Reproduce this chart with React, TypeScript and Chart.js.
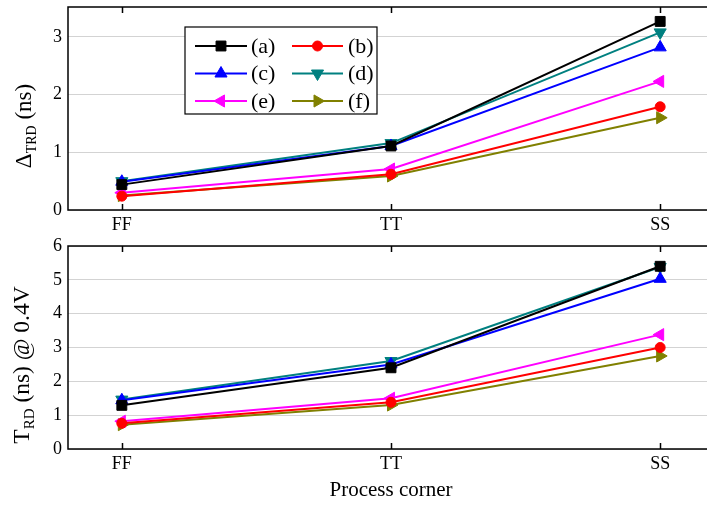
import React, { useEffect, useRef } from "react";
import { Chart, registerables } from "chart.js";
Chart.register(...registerables);

const FONT = '"Liberation Serif", "Times New Roman", serif';

const categories = ["FF", "TT", "SS"];
const seriesLabels = ["(a)", "(b)", "(c)", "(d)", "(e)", "(f)"];
const seriesColors = ["#000000", "#ff0000", "#0000ff", "#008080", "#ff00ff", "#808000"];
const pointStyles = ["rect", "circle", "triangle", "triangle", "triangle", "triangle"];
const pointRotations = [0, 0, 0, 180, 270, 90];
const pointRadii = [7, 5, 7, 7, 7, 7];

// Top panel: Δ_TRD (ns)
const deltaA = [0.44, 1.11, 3.27];
const deltaB = [0.24, 0.62, 1.79];
const deltaC = [0.49, 1.11, 2.82];
const deltaD = [0.5, 1.16, 3.08];
const deltaE = [0.3, 0.71, 2.23];
const deltaF = [0.25, 0.59, 1.6];

// Bottom panel: T_RD (ns) @ 0.4V
const trdA = [1.29, 2.4, 5.4];
const trdB = [0.76, 1.38, 3.0];
const trdC = [1.44, 2.5, 5.03];
const trdD = [1.46, 2.6, 5.38];
const trdE = [0.82, 1.5, 3.38];
const trdF = [0.72, 1.3, 2.75];

const topYTicks = [0, 1, 2, 3];
const bottomYTicks = [0, 1, 2, 3, 4, 5, 6];

function drawMarker(ctx: CanvasRenderingContext2D, style: string, rotation: number, x: number, y: number, r: number, color: string) {
  ctx.save();
  ctx.fillStyle = color;
  ctx.strokeStyle = color;
  ctx.lineWidth = 1;
  ctx.translate(x, y);
  ctx.rotate((rotation * Math.PI) / 180);
  ctx.beginPath();
  if (style === "rect") {
    const s = r * Math.SQRT1_2;
    ctx.rect(-s, -s, 2 * s, 2 * s);
  } else if (style === "circle") {
    ctx.arc(0, 0, r, 0, Math.PI * 2);
  } else {
    for (let i = 0; i < 3; i++) {
      const ang = (i * 2 * Math.PI) / 3;
      const px = Math.sin(ang) * r;
      const py = -Math.cos(ang) * r;
      if (i === 0) ctx.moveTo(px, py);
      else ctx.lineTo(px, py);
    }
    ctx.closePath();
  }
  ctx.fill();
  ctx.stroke();
  ctx.restore();
}

type Seg = { text: string; size: number; sub?: boolean };

function drawRotatedTitle(ctx: CanvasRenderingContext2D, segs: Seg[], baseX: number, centerY: number) {
  ctx.save();
  let total = 0;
  const widths = segs.map((s) => {
    ctx.font = `${s.size}px ${FONT}`;
    const w = ctx.measureText(s.text).width;
    total += w;
    return w;
  });
  ctx.translate(baseX, centerY);
  ctx.rotate(-Math.PI / 2);
  ctx.fillStyle = "#000";
  ctx.textBaseline = "alphabetic";
  ctx.textAlign = "left";
  let x = -total / 2;
  segs.forEach((s, i) => {
    ctx.font = `${s.size}px ${FONT}`;
    ctx.fillText(s.text, x, s.sub ? 5 : 0);
    x += widths[i];
  });
  ctx.restore();
}

const decoPlugin = {
  id: "deco",
  afterDraw(chart: any, _args: any, o: any) {
    const { ctx, chartArea: a, scales } = chart;
    ctx.save();
    ctx.strokeStyle = "#000";
    ctx.lineWidth = 1.5;
    ctx.beginPath();
    ctx.rect(a.left, a.top, a.right - a.left, a.bottom - a.top);
    const xs = scales.x;
    categories.forEach((_c, i) => {
      const px = Math.round(xs.getPixelForValue(i)) + 0.5;
      ctx.moveTo(px, a.bottom);
      ctx.lineTo(px, a.bottom - 6);
      ctx.moveTo(px, a.top);
      ctx.lineTo(px, a.top + 6);
    });
    ctx.stroke();
    ctx.restore();

    if (o.yTitle) drawRotatedTitle(ctx, o.yTitle, o.yTitleX, o.yTitleY);

    if (o.xTitle) {
      ctx.save();
      ctx.font = `21px ${FONT}`;
      ctx.fillStyle = "#000";
      ctx.textAlign = "center";
      ctx.textBaseline = "middle";
      ctx.fillText(o.xTitle, xs.getPixelForValue(1), o.xTitleY);
      ctx.restore();
    }

    if (o.legend) {
      ctx.save();
      const bx = 185, by = 27, bw = 192, bh = 87;
      ctx.fillStyle = "#fff";
      ctx.fillRect(bx, by, bw, bh);
      ctx.strokeStyle = "#000";
      ctx.lineWidth = 1.2;
      ctx.strokeRect(bx, by, bw, bh);
      const rows = [46, 73.5, 101];
      const cols = [
        { l0: 195, l1: 247, t: 251 },
        { l0: 292, l1: 343, t: 348 },
      ];
      seriesLabels.forEach((lab, i) => {
        const row = Math.floor(i / 2);
        const col = cols[i % 2];
        const y = rows[row];
        ctx.strokeStyle = seriesColors[i];
        ctx.lineWidth = 2;
        ctx.beginPath();
        ctx.moveTo(col.l0, y);
        ctx.lineTo(col.l1, y);
        ctx.stroke();
        drawMarker(ctx, pointStyles[i], pointRotations[i], (col.l0 + col.l1) / 2, y, pointRadii[i], seriesColors[i]);
        ctx.fillStyle = "#000";
        ctx.font = `22px ${FONT}`;
        ctx.textAlign = "left";
        ctx.textBaseline = "middle";
        ctx.fillText(lab, col.t, y + 1);
      });
      ctx.restore();
    }
  },
};

function makeConfig(series: number[][], yMax: number, yTicks: number[], xAxisHeight: number, topPad: number, deco: any): any {
  return {
    type: "line",
    data: {
      datasets: series.map((vals, i) => ({
        label: seriesLabels[i],
        data: vals.map((v, j) => ({ x: j, y: v })),
        borderColor: seriesColors[i],
        backgroundColor: seriesColors[i],
        borderWidth: 2,
        pointStyle: pointStyles[i],
        rotation: pointRotations[i],
        pointRadius: pointRadii[i],
        pointBorderWidth: 1,
        tension: 0,
        fill: false,
      })),
    },
    options: {
      responsive: false,
      animation: false,
      events: [],
      devicePixelRatio: 1,
      layout: { autoPadding: false, padding: { top: topPad, left: 0, right: 6, bottom: 0 } },
      plugins: { legend: { display: false }, tooltip: { enabled: false }, deco },
      scales: {
        x: {
          type: "linear",
          min: -0.2,
          max: 2.2,
          afterBuildTicks: (s: any) => {
            s.ticks = categories.map((_c, i) => ({ value: i }));
          },
          afterFit: (s: any) => {
            s.height = xAxisHeight;
            s.paddingLeft = 0;
            s.paddingRight = 0;
            s.paddingTop = 0;
            s.paddingBottom = 0;
          },
          grid: { display: false, drawTicks: false },
          border: { display: false },
          ticks: {
            callback: (v: any) => categories[Math.round(Number(v))] ?? "",
            font: { family: FONT, size: 18 },
            color: "#000",
            padding: 4,
            maxRotation: 0,
            autoSkip: false,
          },
        },
        y: {
          type: "linear",
          min: 0,
          max: yMax,
          afterBuildTicks: (s: any) => {
            s.ticks = yTicks.map((v) => ({ value: v }));
          },
          afterFit: (s: any) => {
            s.width = 68;
            s.paddingTop = 0;
            s.paddingBottom = 0;
            s.paddingLeft = 0;
            s.paddingRight = 0;
          },
          grid: { color: "#d3d3d3", lineWidth: 1, drawTicks: false },
          border: { display: false },
          ticks: {
            font: { family: FONT, size: 18 },
            color: "#000",
            padding: 6,
          },
        },
      },
    },
    plugins: [decoPlugin],
  };
}

export default function App() {
  const topRef = useRef<HTMLCanvasElement>(null);
  const botRef = useRef<HTMLCanvasElement>(null);

  useEffect(() => {
    const top = new Chart(
      topRef.current as HTMLCanvasElement,
      makeConfig([deltaA, deltaB, deltaC, deltaD, deltaE, deltaF], 3.52, topYTicks, 27, 7, {
        yTitle: [
          { text: "Δ", size: 23 },
          { text: "TRD", size: 14, sub: true },
          { text: " (ns)", size: 23 },
        ],
        yTitleX: 31,
        yTitleY: 126,
        legend: true,
      })
    );
    const bottom = new Chart(
      botRef.current as HTMLCanvasElement,
      makeConfig([trdA, trdB, trdC, trdD, trdE, trdF], 6, bottomYTicks, 56, 9, {
        yTitle: [
          { text: "T", size: 23.5 },
          { text: "RD", size: 15, sub: true },
          { text: " (ns) @ 0.4V", size: 23.5 },
        ],
        yTitleX: 29,
        yTitleY: 128,
        xTitle: "Process corner",
        xTitleY: 253,
      })
    );
    return () => {
      top.destroy();
      bottom.destroy();
    };
  }, []);

  return (
    <div
      style={{
        position: "fixed",
        left: 0,
        top: 0,
        width: 707,
        height: 505,
        overflow: "hidden",
        background: "#fff",
      }}
    >
      <canvas ref={topRef} width={720} height={237} style={{ position: "absolute", left: 0, top: 0 }} />
      <canvas ref={botRef} width={720} height={268} style={{ position: "absolute", left: 0, top: 237 }} />
    </div>
  );
}
